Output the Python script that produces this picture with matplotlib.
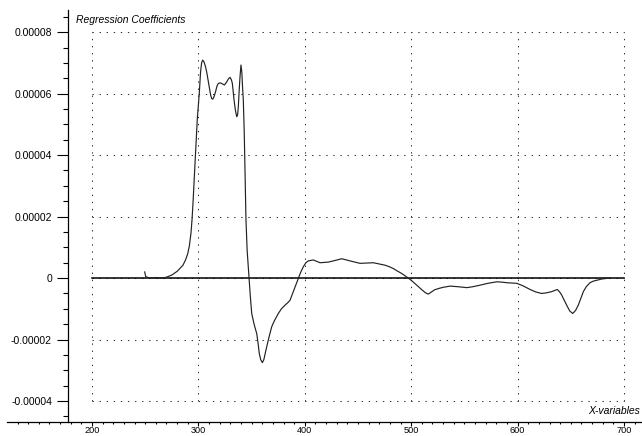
import numpy as np
import matplotlib.pyplot as plt
from matplotlib.ticker import MultipleLocator, FixedLocator, FixedFormatter

plt.rcParams['font.family'] = ['Liberation Sans', 'DejaVu Sans']

# regression coefficient curve (x-variable, coefficient in 1e-5)
wave = [249.5, 250.5, 254, 260, 265, 270, 275, 280, 285.5, 288, 290, 291.5,
        293, 294, 295, 296, 297.5, 299, 300.8, 302, 303, 304, 305, 306.5, 307.8,
        309, 310.5, 311.5, 312.5, 313.5, 314.7, 316, 317.5, 318.7, 320.3, 321.9,
        324.4, 326.6, 328.2, 329.7, 331, 331.9, 333.5, 334.8, 336, 336.8, 337.5,
        338.3, 339.1, 340, 340.8, 341.5, 342.2, 343.1, 343.8, 344.7, 345.8,
        347.6, 348.8, 350.1, 352, 353.5, 354.8, 356, 357.2, 358.5, 360.1, 361.5,
        362.8, 364.2, 366.5, 368.9, 371.5, 375.1, 378, 381.4, 384, 386.1, 388.5,
        390.8, 394, 396, 398.6, 401, 403.3, 408, 414.3, 422, 428, 434.7, 442.5,
        451.9, 464.4, 475.4, 479.5, 483.2, 487, 491.1, 494.5, 497.3, 501, 505.2,
        510, 513.5, 516.1, 519, 522, 525.5, 530, 536.5, 544, 552.2, 558, 564.7,
        572, 580.4, 585, 589.8, 594, 599.2, 605, 611.7, 617, 622.6, 627, 632,
        635, 637.3, 639.5, 641.4, 643.5, 646.1, 649, 651.8, 654.5, 657, 659.5,
        661.8, 664.5, 668, 671, 674.3, 679, 683.7, 686]
coef = [0.20, 0.05, 0.0, 0.02, 0.0, 0.03, 0.10, 0.22, 0.42, 0.60, 0.80, 1.05,
        1.46, 1.90, 2.50, 3.20, 4.20, 5.20, 6.00, 6.70, 7.00, 7.09, 7.05, 6.90,
        6.70, 6.45, 6.15, 5.95, 5.84, 5.82, 5.90, 6.05, 6.25, 6.33, 6.35, 6.33,
        6.28, 6.38, 6.48, 6.53, 6.45, 6.33, 5.79, 5.45, 5.25, 5.30, 5.57, 6.10,
        6.55, 6.93, 6.70, 6.20, 5.79, 4.70, 3.40, 1.89, 0.90, 0.0, -0.60, -1.15,
        -1.45, -1.65, -1.80, -2.10, -2.45, -2.65, -2.75, -2.65, -2.45, -2.23,
        -1.90, -1.58, -1.38, -1.15, -1.00, -0.88, -0.80, -0.72, -0.50, -0.28,
        0.0, 0.18, 0.37, 0.50, 0.56, 0.59, 0.50, 0.52, 0.57, 0.63, 0.56, 0.48,
        0.50, 0.42, 0.37, 0.31, 0.23, 0.15, 0.07, 0.0, -0.10, -0.23, -0.38,
        -0.48, -0.52, -0.45, -0.38, -0.34, -0.30, -0.26, -0.28, -0.31, -0.28,
        -0.23, -0.17, -0.12, -0.13, -0.15, -0.16, -0.17, -0.25, -0.37, -0.45,
        -0.50, -0.48, -0.44, -0.40, -0.37, -0.45, -0.55, -0.70, -0.88, -1.07,
        -1.15, -1.05, -0.88, -0.65, -0.44, -0.28, -0.15, -0.10, -0.07, -0.03,
        -0.01, 0.0]
coef = np.array(coef) * 1e-5

yticks = [-0.00004, -0.00002, 0, 0.00002, 0.00004, 0.00006, 0.00008]
ylabels = ['-0.00004', '-0.00002', '0', '0.00002', '0.00004', '0.00006', '0.00008']
xticks = [200, 300, 400, 500, 600, 700]

W, H = 642, 436
fig = plt.figure(figsize=(W / 100, H / 100), dpi=100)
ax = fig.add_axes([7 / W, 14 / H, 635 / W, 412 / H])
ax.set_xlim(120.1, 716.9)
ax.set_ylim(-0.0000468, 0.0000872)

for s in ['top', 'right']:
    ax.spines[s].set_visible(False)
ax.spines['left'].set_position(('data', 177.4))
for s in ['left', 'bottom']:
    ax.spines[s].set_linewidth(0.9)

# dotted grid only over the plotted range
dots = (0, (1.3, 5.5))
ax.hlines(yticks, 200, 700, colors='#333333', linestyles=dots, linewidth=0.75)
ax.vlines(xticks, yticks[0], yticks[-1], colors='#333333', linestyles=dots,
          linewidth=0.75)
ax.plot([200, 700], [0, 0], color='k', linewidth=1.1)

ax.plot(wave, coef, color='#222222', linewidth=0.85)

ax.yaxis.set_major_locator(FixedLocator(yticks))
ax.yaxis.set_major_formatter(FixedFormatter(ylabels))
ax.yaxis.set_minor_locator(MultipleLocator(0.000005))
ax.xaxis.set_major_locator(FixedLocator(xticks))
ax.xaxis.set_minor_locator(MultipleLocator(10))
ax.tick_params(axis='y', which='major', length=8, width=0.8, pad=3.5, labelsize=7.5)
ax.tick_params(axis='y', which='minor', length=3.6, width=0.8)
ax.tick_params(axis='x', which='major', length=2.6, width=0.8, pad=0, labelsize=6.6)
ax.tick_params(axis='x', which='minor', length=1.6, width=0.8)

fig.text(76 / W, 1 - 20 / H, 'Regression Coefficients', style='italic',
         fontsize=7.5, ha='left', va='center')
fig.text(640 / W, 1 - 411 / H, 'X-variables', style='italic',
         fontsize=7.5, ha='right', va='center')

fig.savefig('out.png', dpi=100)
